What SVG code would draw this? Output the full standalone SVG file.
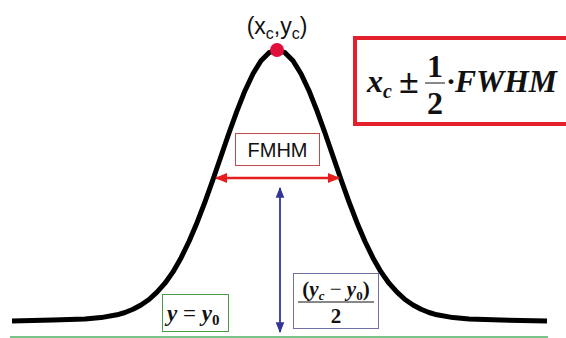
<svg xmlns="http://www.w3.org/2000/svg" width="566" height="338" viewBox="0 0 566 338">
<defs>
<style>
.curve{fill:none;stroke:#000;stroke-width:5;stroke-linejoin:round;stroke-linecap:butt}
.sans{font-family:"Liberation Sans",Arial,sans-serif;fill:#111}
.math{font-family:"Liberation Serif","Times New Roman",serif;font-weight:bold;font-style:italic;fill:#111}
.num{font-family:"Liberation Serif","Times New Roman",serif;font-weight:bold;fill:#111}
</style>
<marker id="redHead" viewBox="0 0 10 10" refX="9" refY="5" markerWidth="5" markerHeight="5" orient="auto-start-reverse" markerUnits="strokeWidth">
<path d="M0,1 L10,5 L0,9 Z" fill="#e81c1c"/>
</marker>
<marker id="blueHead" viewBox="0 0 10 10" refX="9" refY="5" markerWidth="6" markerHeight="6" orient="auto-start-reverse" markerUnits="strokeWidth">
<path d="M0,1 L10,5 L0,9 Z" fill="#33339a"/>
</marker>
</defs>
<rect width="566" height="338" fill="#fff"/>
<g id="baseline-line">
<line x1="10" y1="337" x2="548" y2="337" stroke="#4cb060" stroke-width="1.5"/>
</g>
<g id="curve">
<path class="curve" d="M12,321 L53,320 L69,319.6 L85,318.9 L101,317.6 L117,314.8 L125,312.5 L133,309.3 L141,305 L149,299.5 L157,292.2 L165,283.2 L173,271.9 L181,257.9 L189,241.5 L197,222.7 L205,201.8 L213,179.5 L221,156.2 L229,133 L237,110.8 L245,90.7 L253,73.7 L261,60.8 L269,52.7 L277,50 L285,52.7 L293,60.8 L301,73.7 L309,90.7 L317,110.8 L325,133 L333,156.2 L341,179.5 L349,201.8 L357,222.7 L365,241.5 L373,257.9 L381,271.9 L389,283.2 L397,292.2 L405,299.5 L413,305 L421,309.3 L429,312.5 L437,314.8 L453,317.6 L469,318.9 L485,319.6 L501,320 L547,321"/>
</g>
<g id="peak">
<circle cx="277" cy="50" r="7" fill="#e0103c"/>
<text class="sans" x="277" y="34" font-size="23" text-anchor="middle">(x<tspan font-size="16" dy="5">c</tspan><tspan dy="-5">,y</tspan><tspan font-size="16" dy="5">c</tspan><tspan dy="-5">)</tspan></text>
</g>
<g id="formula">
<rect x="355" y="38" width="220" height="86" fill="#fff" stroke="#e4202c" stroke-width="4"/>
<text class="math" x="367" y="92" font-size="32">x<tspan font-size="20" dy="6">c</tspan></text>
<text class="num" x="399" y="93" font-size="36" font-weight="normal">±</text>
<text class="num" x="435" y="77" font-size="32" text-anchor="middle">1</text>
<line x1="425" y1="83" x2="445" y2="83" stroke="#111" stroke-width="1"/>
<text class="num" x="435" y="114" font-size="32" text-anchor="middle">2</text>
<text class="num" x="446" y="91" font-size="30">·</text>
<text class="math" x="455" y="92" font-size="31" textLength="102" lengthAdjust="spacingAndGlyphs">FWHM</text>
</g>
<g id="fwhm-label">
<rect x="235.5" y="133.5" width="84" height="32" fill="#fff" stroke="#c04a4a" stroke-width="1"/>
<text class="sans" x="277.5" y="157" font-size="20" text-anchor="middle">FMHM</text>
</g>
<g id="connectors">
<line x1="216" y1="178" x2="339" y2="178" stroke="#e81c1c" stroke-width="2.5" marker-start="url(#redHead)" marker-end="url(#redHead)"/>
<line x1="280" y1="188" x2="280" y2="332" stroke="#33339a" stroke-width="1.8" marker-start="url(#blueHead)" marker-end="url(#blueHead)"/>
</g>
<g id="y0-label">
<rect x="162.5" y="294.5" width="66" height="37" fill="#fff" stroke="#4a9a4a" stroke-width="1"/>
<text class="math" x="167" y="321" font-size="23">y <tspan font-style="normal" font-weight="normal">=</tspan> y<tspan class="num" font-style="normal" font-size="15" dy="4">0</tspan></text>
</g>
<g id="half-label">
<rect x="293.5" y="273.5" width="85" height="55" fill="#fff" stroke="#7070a8" stroke-width="1"/>
<text class="math" x="336" y="296" font-size="21" text-anchor="middle"><tspan font-style="normal">(</tspan>y<tspan font-size="13" dy="4">c</tspan><tspan font-style="normal" font-weight="normal" dy="-4"> − </tspan>y<tspan font-style="normal" font-size="13" dy="4">0</tspan><tspan font-style="normal" dy="-4">)</tspan></text>
<line x1="298" y1="302" x2="374" y2="302" stroke="#111" stroke-width="1"/>
<text class="num" x="336" y="323" font-size="21" text-anchor="middle">2</text>
</g>
</svg>
